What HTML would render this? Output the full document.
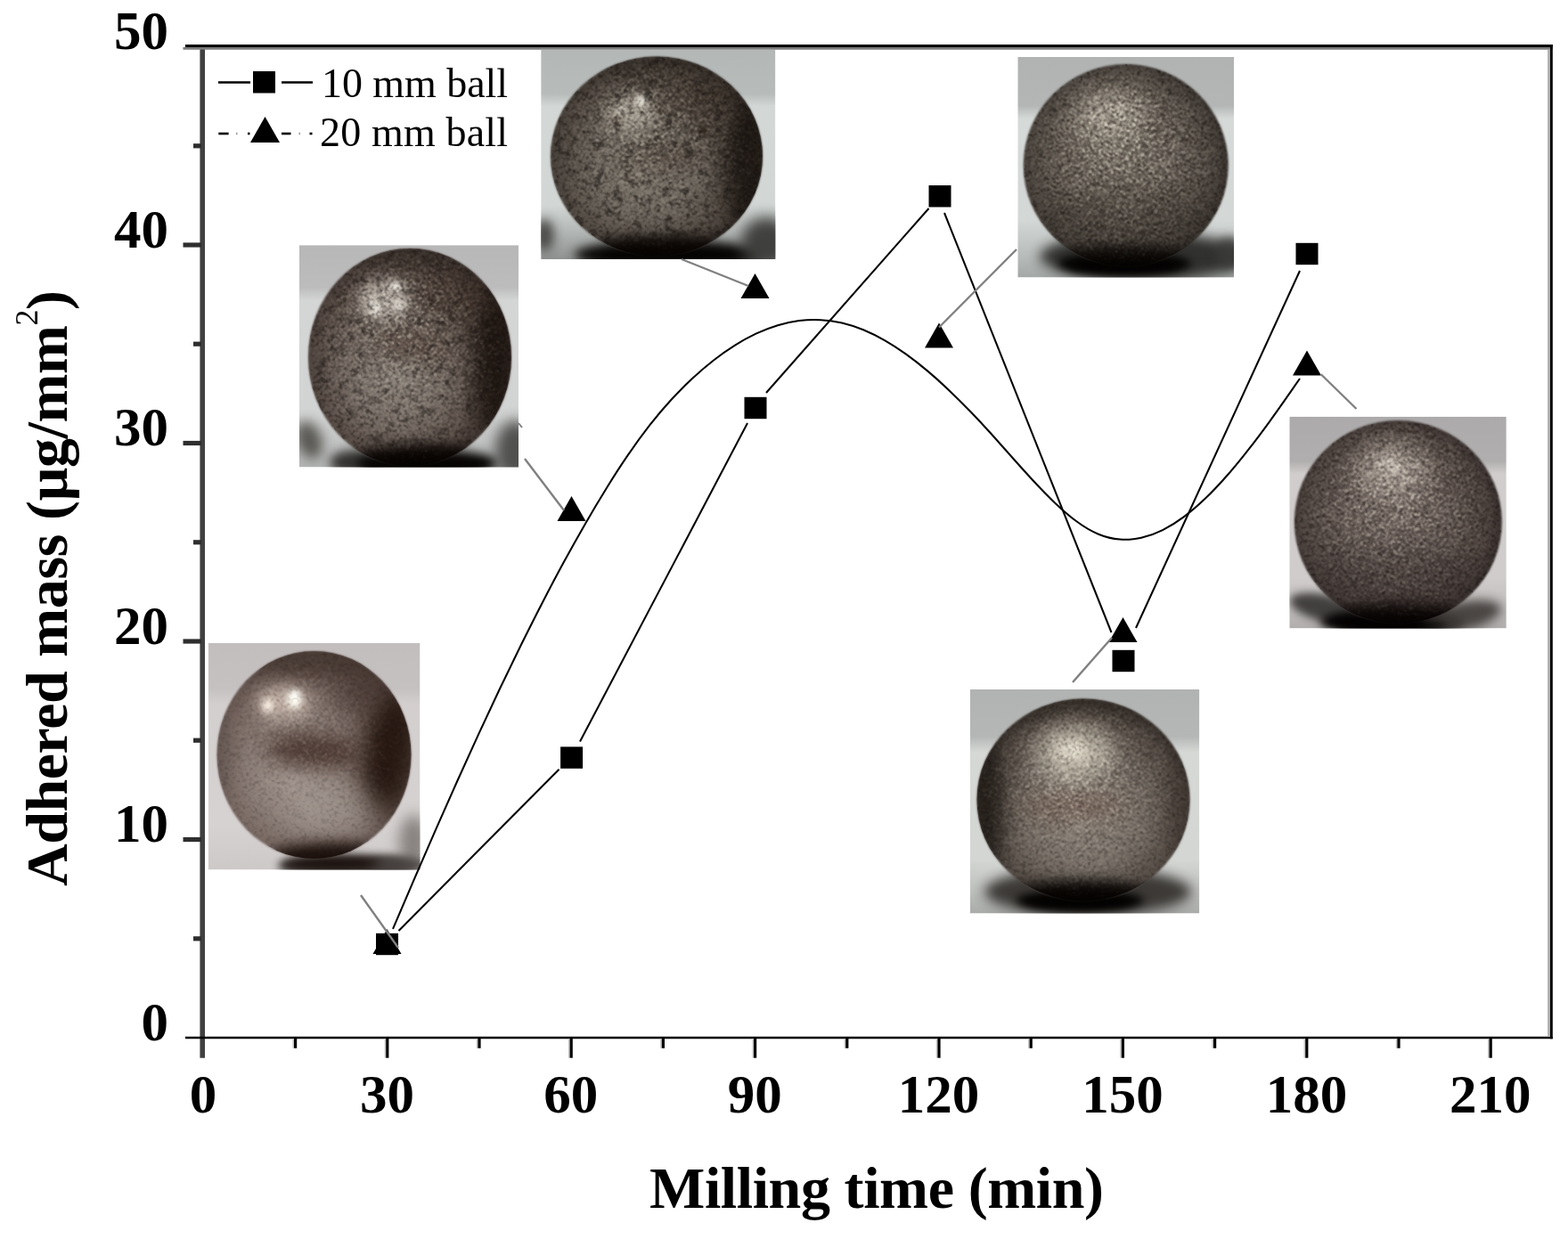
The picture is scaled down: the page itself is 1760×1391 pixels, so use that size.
<!DOCTYPE html>
<html lang="en"><head><meta charset="utf-8"><title>Adhered mass vs milling time</title>
<style>
html,body{margin:0;padding:0;background:#fff;}
svg{display:block}
text{font-family:"Liberation Serif","Times New Roman",serif;fill:#000}
.b{font-weight:bold}
</style></head><body>
<svg width="1760" height="1391" viewBox="0 0 1760 1391">
<rect width="1760" height="1391" fill="#fff"/>
<defs>
<filter id="grainD" x="-5%" y="-5%" width="110%" height="110%" color-interpolation-filters="sRGB">
<feTurbulence type="fractalNoise" baseFrequency="0.75" numOctaves="2" seed="7" result="n"/>
<feGaussianBlur in="n" stdDeviation="0.9" result="nb"/>
<feColorMatrix in="nb" type="matrix" values="0 0 0 0 0.07  0 0 0 0 0.05  0 0 0 0 0.04  -18 0 0 0 9"/>
<feComposite operator="in" in2="SourceGraphic"/>
</filter>
<filter id="grainL" x="-5%" y="-5%" width="110%" height="110%" color-interpolation-filters="sRGB">
<feTurbulence type="fractalNoise" baseFrequency="0.75" numOctaves="2" seed="7" result="n"/>
<feGaussianBlur in="n" stdDeviation="0.9" result="nb"/>
<feColorMatrix in="nb" type="matrix" values="0 0 0 0 0.97  0 0 0 0 0.95  0 0 0 0 0.88  18 0 0 0 -9"/>
<feComposite operator="in" in2="SourceGraphic"/>
</filter>
<filter id="blotch" x="-5%" y="-5%" width="110%" height="110%" color-interpolation-filters="sRGB">
<feTurbulence type="fractalNoise" baseFrequency="0.09" numOctaves="3" seed="11" result="n"/>
<feColorMatrix in="n" type="matrix" values="0 0 0 0 0.1  0 0 0 0 0.08  0 0 0 0 0.07  0 0 0 -5 2.3"/>
<feComposite operator="in" in2="SourceGraphic"/>
</filter>
<filter id="b3" x="-20%" y="-20%" width="140%" height="140%"><feGaussianBlur stdDeviation="3"/></filter>
<filter id="b6" x="-30%" y="-30%" width="160%" height="160%"><feGaussianBlur stdDeviation="6"/></filter>
<filter id="b10" x="-40%" y="-40%" width="180%" height="180%"><feGaussianBlur stdDeviation="10"/></filter>
<filter id="b1" x="-5%" y="-5%" width="110%" height="110%" color-interpolation-filters="sRGB"><feGaussianBlur stdDeviation="1.1"/></filter>
</defs>

<defs>
<filter id="bl3" x="-150%" y="-150%" width="400%" height="400%" color-interpolation-filters="sRGB"><feGaussianBlur stdDeviation="3"/></filter>
<filter id="bl4" x="-150%" y="-150%" width="400%" height="400%" color-interpolation-filters="sRGB"><feGaussianBlur stdDeviation="4"/></filter>
<filter id="bl5" x="-150%" y="-150%" width="400%" height="400%" color-interpolation-filters="sRGB"><feGaussianBlur stdDeviation="5"/></filter>
<filter id="bl6" x="-150%" y="-150%" width="400%" height="400%" color-interpolation-filters="sRGB"><feGaussianBlur stdDeviation="6"/></filter>
<filter id="bl7" x="-150%" y="-150%" width="400%" height="400%" color-interpolation-filters="sRGB"><feGaussianBlur stdDeviation="7"/></filter>
<filter id="bl8" x="-150%" y="-150%" width="400%" height="400%" color-interpolation-filters="sRGB"><feGaussianBlur stdDeviation="8"/></filter>
<filter id="bl9" x="-150%" y="-150%" width="400%" height="400%" color-interpolation-filters="sRGB"><feGaussianBlur stdDeviation="9"/></filter>
<filter id="bl10" x="-150%" y="-150%" width="400%" height="400%" color-interpolation-filters="sRGB"><feGaussianBlur stdDeviation="10"/></filter>
<filter id="bl11" x="-150%" y="-150%" width="400%" height="400%" color-interpolation-filters="sRGB"><feGaussianBlur stdDeviation="11"/></filter>
<filter id="bl12" x="-150%" y="-150%" width="400%" height="400%" color-interpolation-filters="sRGB"><feGaussianBlur stdDeviation="12"/></filter>
<filter id="bl13" x="-150%" y="-150%" width="400%" height="400%" color-interpolation-filters="sRGB"><feGaussianBlur stdDeviation="13"/></filter>
<filter id="bl14" x="-150%" y="-150%" width="400%" height="400%" color-interpolation-filters="sRGB"><feGaussianBlur stdDeviation="14"/></filter>
<filter id="bl15" x="-150%" y="-150%" width="400%" height="400%" color-interpolation-filters="sRGB"><feGaussianBlur stdDeviation="15"/></filter>
<filter id="bl16" x="-150%" y="-150%" width="400%" height="400%" color-interpolation-filters="sRGB"><feGaussianBlur stdDeviation="16"/></filter>
</defs>
<defs><clipPath id="p0c"><rect x="233.7" y="722" width="237.8" height="254.4"/></clipPath>
<clipPath id="p0e"><ellipse cx="352.5" cy="847.5" rx="109" ry="116.5"/></clipPath>
<linearGradient id="p0bg" x1="0" y1="0" x2="0" y2="1"><stop offset="0" stop-color="#c3bebe"/><stop offset="0.2" stop-color="#c5c1c1"/><stop offset="0.27" stop-color="#d3cfce"/><stop offset="0.8" stop-color="#d6d2d1"/><stop offset="1" stop-color="#cdc9c8"/></linearGradient>
<radialGradient id="p0g" cx="0.45" cy="0.55" r="0.6" fx="0.4" fy="0.62"><stop offset="0" stop-color="#a2958f"/><stop offset="0.35" stop-color="#8e807a"/><stop offset="0.7" stop-color="#75655f"/><stop offset="0.9" stop-color="#5c4c47"/><stop offset="1" stop-color="#4a3b37"/></radialGradient></defs>
<g clip-path="url(#p0c)"><rect x="233.7" y="722" width="237.8" height="254.4" fill="url(#p0bg)"/>
<ellipse cx="390" cy="972" rx="78" ry="13" fill="#2a2422" opacity="0.95" filter="url(#bl5)"/>
<ellipse cx="464" cy="945" rx="16" ry="30" fill="#7a7472" opacity="0.85" filter="url(#bl8)"/>
<ellipse cx="445" cy="971" rx="34" ry="10" fill="#4a4442" opacity="0.85" filter="url(#bl5)"/>
<g filter="url(#b1)"><ellipse cx="352.5" cy="847.5" rx="109" ry="116.5" fill="url(#p0g)"/></g>
<g clip-path="url(#p0e)">
<ellipse cx="436" cy="845" rx="30" ry="72" fill="#24160f" opacity="0.95" filter="url(#bl13)" transform="rotate(8 436 845)"/>
<ellipse cx="405" cy="775" rx="32" ry="32" fill="#43332e" opacity="0.6" filter="url(#bl14)"/>
<ellipse cx="352" cy="843" rx="55" ry="20" fill="#44302a" opacity="0.85" filter="url(#bl11)" transform="rotate(4 352 843)"/>
<ellipse cx="352" cy="742" rx="80" ry="18" fill="#43362f" opacity="0.8" filter="url(#bl10)"/>
<ellipse cx="248" cy="850" rx="10" ry="60" fill="#5a4e4a" opacity="0.5" filter="url(#bl7)"/>
<ellipse cx="375" cy="912" rx="50" ry="30" fill="#aaa19b" opacity="0.5" filter="url(#bl15)"/>
<ellipse cx="375" cy="962" rx="75" ry="16" fill="#1a0f0b" opacity="0.95" filter="url(#bl7)"/>
<ellipse cx="318" cy="789" rx="30" ry="19" fill="#dccbbf" opacity="0.7" filter="url(#bl9)"/>
<ellipse cx="330.6" cy="784.4" rx="8" ry="10.5" fill="#fffdf5" opacity="1" filter="url(#bl3)"/>
<ellipse cx="300.5" cy="792" rx="6" ry="8" fill="#fdf0e4" opacity="0.95" filter="url(#bl3)"/>
<ellipse cx="352.5" cy="847.5" rx="109" ry="116.5" fill="#000" opacity="0.16" filter="url(#grainD)"/>
<radialGradient id="p0lg" cx="0.5" cy="0.5" r="0.5" fx="0.360" fy="0.253"><stop offset="0" stop-color="#fff"/><stop offset="0.25" stop-color="#fff" stop-opacity="0.8"/><stop offset="0.6" stop-color="#fff" stop-opacity="0.4"/><stop offset="1" stop-color="#fff" stop-opacity="0.05"/></radialGradient>
<ellipse cx="352.5" cy="847.5" rx="109" ry="116.5" fill="url(#p0lg)" opacity="0.18" filter="url(#grainL)"/>
</g>
<ellipse cx="372" cy="969" rx="55" ry="6" fill="#1a100c" opacity="0.9" filter="url(#bl4)"/>
</g>
<defs><clipPath id="p1c"><rect x="336" y="275.2" width="246" height="249.3"/></clipPath>
<clipPath id="p1e"><ellipse cx="460" cy="401" rx="114" ry="122"/></clipPath>
<linearGradient id="p1bg" x1="0" y1="0" x2="0" y2="1"><stop offset="0" stop-color="#b7b7b7"/><stop offset="0.19" stop-color="#bcbcbc"/><stop offset="0.25" stop-color="#d4d6d5"/><stop offset="0.76" stop-color="#d2d4d3"/><stop offset="0.88" stop-color="#c2c4c3"/><stop offset="1" stop-color="#b4b6b5"/></linearGradient>
<radialGradient id="p1g" cx="0.46" cy="0.52" r="0.58" fx="0.42" fy="0.62"><stop offset="0" stop-color="#888078"/><stop offset="0.4" stop-color="#746a63"/><stop offset="0.75" stop-color="#544842"/><stop offset="1" stop-color="#2e2521"/></radialGradient></defs>
<g clip-path="url(#p1c)"><rect x="336" y="275.2" width="246" height="249.3" fill="url(#p1bg)"/>
<ellipse cx="347" cy="494" rx="14" ry="22" fill="#55534f" opacity="0.95" filter="url(#bl7)" transform="rotate(-20 347 494)"/>
<ellipse cx="400" cy="519" rx="30" ry="14" fill="#2e2c2a" opacity="0.95" filter="url(#bl6)"/>
<ellipse cx="480" cy="520" rx="80" ry="16" fill="#0a0807" opacity="1" filter="url(#bl6)"/>
<ellipse cx="578" cy="506" rx="22" ry="34" fill="#4a4a48" opacity="0.95" filter="url(#bl8)"/>
<g filter="url(#b1)"><ellipse cx="460" cy="401" rx="114" ry="122" fill="url(#p1g)"/></g>
<g clip-path="url(#p1e)">
<ellipse cx="554" cy="400" rx="24" ry="90" fill="#1a120e" opacity="0.9" filter="url(#bl13)"/>
<ellipse cx="512" cy="330" rx="45" ry="34" fill="#43362f" opacity="0.6" filter="url(#bl14)"/>
<ellipse cx="460" cy="286" rx="75" ry="13" fill="#3b322d" opacity="0.75" filter="url(#bl9)"/>
<ellipse cx="465" cy="388" rx="50" ry="15" fill="#4d3c34" opacity="0.6" filter="url(#bl11)" transform="rotate(8 465 388)"/>
<ellipse cx="478" cy="520" rx="88" ry="22" fill="#0a0604" opacity="1" filter="url(#bl7)"/>
<ellipse cx="352" cy="410" rx="10" ry="60" fill="#4a413c" opacity="0.5" filter="url(#bl7)"/>
<ellipse cx="431" cy="336" rx="30" ry="22" fill="#d4ccc2" opacity="0.7" filter="url(#bl9)"/>
<ellipse cx="444" cy="322" rx="7" ry="6" fill="#f2eee6" opacity="0.9" filter="url(#bl3)"/>
<ellipse cx="420" cy="345" rx="7" ry="9" fill="#f2eee6" opacity="0.85" filter="url(#bl3)"/>
<ellipse cx="448" cy="343" rx="6" ry="6" fill="#eeeae2" opacity="0.8" filter="url(#bl3)"/>
<ellipse cx="460" cy="401" rx="114" ry="122" fill="#000" opacity="0.4" filter="url(#blotch)"/>
<ellipse cx="460" cy="401" rx="114" ry="122" fill="#000" opacity="0.4" filter="url(#grainD)"/>
<radialGradient id="p1lg" cx="0.5" cy="0.5" r="0.5" fx="0.382" fy="0.242"><stop offset="0" stop-color="#fff"/><stop offset="0.25" stop-color="#fff" stop-opacity="0.8"/><stop offset="0.6" stop-color="#fff" stop-opacity="0.4"/><stop offset="1" stop-color="#fff" stop-opacity="0.05"/></radialGradient>
<ellipse cx="460" cy="401" rx="114" ry="122" fill="url(#p1lg)" opacity="0.45" filter="url(#grainL)"/>
</g>
<ellipse cx="478" cy="523" rx="70" ry="7" fill="#050302" opacity="1" filter="url(#bl4)"/>
</g>
<defs><clipPath id="p2c"><rect x="607.2" y="56" width="263.2" height="235"/></clipPath>
<clipPath id="p2e"><ellipse cx="737" cy="175.5" rx="119" ry="112"/></clipPath>
<linearGradient id="p2bg" x1="0" y1="0" x2="0" y2="1"><stop offset="0" stop-color="#b3b7b6"/><stop offset="0.21" stop-color="#b7bbba"/><stop offset="0.27" stop-color="#d3d8d6"/><stop offset="0.74" stop-color="#d2d7d5"/><stop offset="0.86" stop-color="#b5b9b7"/><stop offset="1" stop-color="#8e918f"/></linearGradient>
<radialGradient id="p2g" cx="0.46" cy="0.52" r="0.58" fx="0.42" fy="0.6"><stop offset="0" stop-color="#7c756b"/><stop offset="0.4" stop-color="#6a635b"/><stop offset="0.75" stop-color="#4e463f"/><stop offset="1" stop-color="#29231f"/></radialGradient></defs>
<g clip-path="url(#p2c)"><rect x="607.2" y="56" width="263.2" height="235" fill="url(#p2bg)"/>
<ellipse cx="611" cy="264" rx="11" ry="18" fill="#474745" opacity="0.95" filter="url(#bl6)"/>
<ellipse cx="750" cy="286" rx="105" ry="17" fill="#0a0806" opacity="1" filter="url(#bl6)"/>
<ellipse cx="860" cy="272" rx="28" ry="28" fill="#3a3a38" opacity="0.95" filter="url(#bl8)"/>
<g filter="url(#b1)"><ellipse cx="737" cy="175.5" rx="119" ry="112" fill="url(#p2g)"/></g>
<g clip-path="url(#p2e)">
<ellipse cx="838" cy="180" rx="24" ry="80" fill="#1c1612" opacity="0.9" filter="url(#bl13)"/>
<ellipse cx="790" cy="112" rx="45" ry="30" fill="#40362e" opacity="0.55" filter="url(#bl14)"/>
<ellipse cx="737" cy="68" rx="85" ry="12" fill="#39322c" opacity="0.75" filter="url(#bl9)"/>
<ellipse cx="750" cy="177" rx="50" ry="14" fill="#4a3e36" opacity="0.5" filter="url(#bl11)"/>
<ellipse cx="745" cy="285" rx="92" ry="21" fill="#0a0604" opacity="1" filter="url(#bl7)"/>
<ellipse cx="626" cy="180" rx="9" ry="55" fill="#453e39" opacity="0.5" filter="url(#bl7)"/>
<ellipse cx="708" cy="127" rx="30" ry="21" fill="#c4bdb0" opacity="0.6" filter="url(#bl9)"/>
<ellipse cx="719.3" cy="113.6" rx="5" ry="6" fill="#fbf9f0" opacity="0.95" filter="url(#bl3)"/>
<ellipse cx="697" cy="124" rx="6" ry="4" fill="#e8e3d6" opacity="0.8" filter="url(#bl3)"/>
<ellipse cx="693" cy="135" rx="5" ry="5" fill="#3a2e24" opacity="0.7" filter="url(#bl3)"/>
<ellipse cx="740" cy="123" rx="5" ry="6" fill="#3a2e24" opacity="0.6" filter="url(#bl3)"/>
<ellipse cx="790" cy="146" rx="6" ry="7" fill="#33291f" opacity="0.7" filter="url(#bl3)"/>
<ellipse cx="737" cy="175.5" rx="119" ry="112" fill="#000" opacity="0.45" filter="url(#blotch)"/>
<ellipse cx="737" cy="175.5" rx="119" ry="112" fill="#000" opacity="0.42" filter="url(#grainD)"/>
<radialGradient id="p2lg" cx="0.5" cy="0.5" r="0.5" fx="0.395" fy="0.261"><stop offset="0" stop-color="#fff"/><stop offset="0.25" stop-color="#fff" stop-opacity="0.8"/><stop offset="0.6" stop-color="#fff" stop-opacity="0.4"/><stop offset="1" stop-color="#fff" stop-opacity="0.05"/></radialGradient>
<ellipse cx="737" cy="175.5" rx="119" ry="112" fill="url(#p2lg)" opacity="0.38" filter="url(#grainL)"/>
</g>
<ellipse cx="748" cy="289" rx="75" ry="7" fill="#050302" opacity="1" filter="url(#bl4)"/>
</g>
<defs><clipPath id="p3c"><rect x="1142.3" y="64" width="242.7" height="247.5"/></clipPath>
<clipPath id="p3e"><ellipse cx="1263.7" cy="185.5" rx="115" ry="113.5"/></clipPath>
<linearGradient id="p3bg" x1="0" y1="0" x2="0" y2="1"><stop offset="0" stop-color="#b0b3b2"/><stop offset="0.22" stop-color="#b3b6b5"/><stop offset="0.28" stop-color="#d5d9d7"/><stop offset="0.74" stop-color="#d3d7d5"/><stop offset="0.9" stop-color="#b8bcba"/><stop offset="1" stop-color="#a3a7a5"/></linearGradient>
<radialGradient id="p3g" cx="0.48" cy="0.5" r="0.57" fx="0.45" fy="0.42"><stop offset="0" stop-color="#7d766c"/><stop offset="0.45" stop-color="#686058"/><stop offset="0.8" stop-color="#4c453f"/><stop offset="1" stop-color="#26211d"/></radialGradient></defs>
<g clip-path="url(#p3c)"><rect x="1142.3" y="64" width="242.7" height="247.5" fill="url(#p3bg)"/>
<ellipse cx="1283" cy="288" rx="116" ry="27" fill="#2a2a28" opacity="0.95" filter="url(#bl7)"/>
<ellipse cx="1262" cy="296" rx="75" ry="13" fill="#050403" opacity="1" filter="url(#bl5)"/>
<ellipse cx="1380" cy="284" rx="16" ry="18" fill="#3a3a38" opacity="0.85" filter="url(#bl6)"/>
<g filter="url(#b1)"><ellipse cx="1263.7" cy="185.5" rx="115" ry="113.5" fill="url(#p3g)"/></g>
<g clip-path="url(#p3e)">
<ellipse cx="1264" cy="296" rx="90" ry="21" fill="#080604" opacity="1" filter="url(#bl7)"/>
<ellipse cx="1264" cy="250" rx="100" ry="40" fill="#2a2520" opacity="0.3" filter="url(#bl16)"/>
<ellipse cx="1247" cy="129" rx="40" ry="30" fill="#bdb6a8" opacity="0.55" filter="url(#bl14)"/>
<ellipse cx="1263.7" cy="185.5" rx="115" ry="113.5" fill="#000" opacity="0.1" filter="url(#blotch)"/>
<ellipse cx="1263.7" cy="185.5" rx="115" ry="113.5" fill="#000" opacity="0.42" filter="url(#grainD)"/>
<radialGradient id="p3lg" cx="0.5" cy="0.5" r="0.5" fx="0.427" fy="0.256"><stop offset="0" stop-color="#fff"/><stop offset="0.25" stop-color="#fff" stop-opacity="0.8"/><stop offset="0.6" stop-color="#fff" stop-opacity="0.4"/><stop offset="1" stop-color="#fff" stop-opacity="0.05"/></radialGradient>
<ellipse cx="1263.7" cy="185.5" rx="115" ry="113.5" fill="url(#p3lg)" opacity="0.6" filter="url(#grainL)"/>
</g>
<ellipse cx="1262" cy="299" rx="62" ry="6" fill="#030201" opacity="1" filter="url(#bl4)"/>
</g>
<defs><clipPath id="p4c"><rect x="1088.7" y="774" width="257.6" height="251.5"/></clipPath>
<clipPath id="p4e"><ellipse cx="1216" cy="898" rx="119.5" ry="113.5"/></clipPath>
<linearGradient id="p4bg" x1="0" y1="0" x2="0" y2="1"><stop offset="0" stop-color="#b1b3b2"/><stop offset="0.21" stop-color="#b5b7b6"/><stop offset="0.28" stop-color="#d6d8d6"/><stop offset="0.76" stop-color="#d4d6d4"/><stop offset="0.9" stop-color="#bec0be"/><stop offset="1" stop-color="#a9aba9"/></linearGradient>
<radialGradient id="p4g" cx="0.5" cy="0.54" r="0.57" fx="0.5" fy="0.6"><stop offset="0" stop-color="#8a8279"/><stop offset="0.45" stop-color="#756d65"/><stop offset="0.8" stop-color="#534a44"/><stop offset="1" stop-color="#28221e"/></radialGradient></defs>
<g clip-path="url(#p4c)"><rect x="1088.7" y="774" width="257.6" height="251.5" fill="url(#p4bg)"/>
<ellipse cx="1221" cy="1001" rx="116" ry="27" fill="#35322f" opacity="0.95" filter="url(#bl7)"/>
<ellipse cx="1212" cy="1011" rx="72" ry="12" fill="#050403" opacity="1" filter="url(#bl5)"/>
<g filter="url(#b1)"><ellipse cx="1216" cy="898" rx="119.5" ry="113.5" fill="url(#p4g)"/></g>
<g clip-path="url(#p4e)">
<ellipse cx="1108" cy="905" rx="18" ry="75" fill="#1c1713" opacity="0.85" filter="url(#bl11)"/>
<ellipse cx="1326" cy="900" rx="14" ry="70" fill="#3a312b" opacity="0.6" filter="url(#bl10)"/>
<ellipse cx="1216" cy="790" rx="90" ry="13" fill="#38312b" opacity="0.75" filter="url(#bl10)"/>
<ellipse cx="1205" cy="905" rx="60" ry="13" fill="#6e5248" opacity="0.55" filter="url(#bl12)"/>
<ellipse cx="1214" cy="1009" rx="92" ry="21" fill="#080604" opacity="1" filter="url(#bl7)"/>
<ellipse cx="1206" cy="845" rx="44" ry="31" fill="#d8d1c0" opacity="0.7" filter="url(#bl13)"/>
<ellipse cx="1204" cy="842" rx="16" ry="10" fill="#f6f1e2" opacity="0.7" filter="url(#bl6)"/>
<ellipse cx="1216" cy="898" rx="119.5" ry="113.5" fill="#000" opacity="0.28" filter="url(#grainD)"/>
<radialGradient id="p4lg" cx="0.5" cy="0.5" r="0.5" fx="0.458" fy="0.267"><stop offset="0" stop-color="#fff"/><stop offset="0.25" stop-color="#fff" stop-opacity="0.8"/><stop offset="0.6" stop-color="#fff" stop-opacity="0.4"/><stop offset="1" stop-color="#fff" stop-opacity="0.05"/></radialGradient>
<ellipse cx="1216" cy="898" rx="119.5" ry="113.5" fill="url(#p4lg)" opacity="0.45" filter="url(#grainL)"/>
</g>
<ellipse cx="1212" cy="1013" rx="60" ry="6" fill="#030201" opacity="1" filter="url(#bl4)"/>
</g>
<defs><clipPath id="p5c"><rect x="1447.3" y="467.7" width="243.5" height="237.7"/></clipPath>
<clipPath id="p5e"><ellipse cx="1569.3" cy="586" rx="116.5" ry="114"/></clipPath>
<linearGradient id="p5bg" x1="0" y1="0" x2="0" y2="1"><stop offset="0" stop-color="#acaaaa"/><stop offset="0.21" stop-color="#b0aeae"/><stop offset="0.27" stop-color="#d0cdcc"/><stop offset="0.76" stop-color="#cfcccb"/><stop offset="0.9" stop-color="#c0bdbc"/><stop offset="1" stop-color="#b0adac"/></linearGradient>
<radialGradient id="p5g" cx="0.48" cy="0.5" r="0.57" fx="0.47" fy="0.44"><stop offset="0" stop-color="#7a6f69"/><stop offset="0.45" stop-color="#655a55"/><stop offset="0.8" stop-color="#4a403c"/><stop offset="1" stop-color="#262020"/></radialGradient></defs>
<g clip-path="url(#p5c)"><rect x="1447.3" y="467.7" width="243.5" height="237.7" fill="url(#p5bg)"/>
<ellipse cx="1487" cy="683" rx="40" ry="15" fill="#383634" opacity="0.92" filter="url(#bl5)" transform="rotate(14 1487 683)"/>
<ellipse cx="1562" cy="698" rx="80" ry="15" fill="#050303" opacity="1" filter="url(#bl5)"/>
<ellipse cx="1640" cy="692" rx="46" ry="16" fill="#403c3a" opacity="0.92" filter="url(#bl6)" transform="rotate(-12 1640 692)"/>
<g filter="url(#b1)"><ellipse cx="1569.3" cy="586" rx="116.5" ry="114" fill="url(#p5g)"/></g>
<g clip-path="url(#p5e)">
<ellipse cx="1566" cy="698" rx="90" ry="21" fill="#080404" opacity="1" filter="url(#bl7)"/>
<ellipse cx="1569" cy="650" rx="100" ry="40" fill="#2a2222" opacity="0.3" filter="url(#bl16)"/>
<ellipse cx="1562" cy="527" rx="40" ry="30" fill="#c2b8ae" opacity="0.6" filter="url(#bl13)"/>
<ellipse cx="1560" cy="522" rx="12" ry="8" fill="#efe8de" opacity="0.5" filter="url(#bl5)"/>
<ellipse cx="1569.3" cy="586" rx="116.5" ry="114" fill="#000" opacity="0.08" filter="url(#blotch)"/>
<ellipse cx="1569.3" cy="586" rx="116.5" ry="114" fill="#000" opacity="0.4" filter="url(#grainD)"/>
<radialGradient id="p5lg" cx="0.5" cy="0.5" r="0.5" fx="0.469" fy="0.241"><stop offset="0" stop-color="#fff"/><stop offset="0.25" stop-color="#fff" stop-opacity="0.8"/><stop offset="0.6" stop-color="#fff" stop-opacity="0.4"/><stop offset="1" stop-color="#fff" stop-opacity="0.05"/></radialGradient>
<ellipse cx="1569.3" cy="586" rx="116.5" ry="114" fill="url(#p5lg)" opacity="0.55" filter="url(#grainL)"/>
</g>
<ellipse cx="1562" cy="702" rx="62" ry="6" fill="#030201" opacity="1" filter="url(#bl4)"/>
</g>
<g stroke="#000" stroke-width="2.05" fill="none" stroke-linecap="butt">
<line x1="447.5" y1="1045" x2="627.5" y2="863.7"/>
<line x1="651" y1="832.5" x2="839" y2="475"/>
<line x1="860" y1="441" x2="1042.5" y2="234"/>
<line x1="1060" y1="239" x2="1247.5" y2="710"/>
<line x1="1275" y1="705" x2="1459" y2="304"/>
<path d="M441.0,1042.9 C449.0,1024.1 457.0,1005.4 465.0,986.9 C473.0,968.3 481.0,949.9 489.0,931.6 C497.0,913.4 505.0,895.3 513.0,877.5 C521.0,859.6 529.0,842.0 537.0,824.6 C545.0,807.3 553.0,790.1 561.0,773.3 C569.0,756.5 577.0,740.0 585.0,723.8 C593.0,707.6 601.0,691.7 609.0,676.2 C617.0,660.7 625.0,645.5 633.0,630.8 C641.0,616.1 649.0,601.8 657.0,587.9 C665.0,574.0 673.0,560.6 681.0,547.7 C689.0,534.8 697.0,522.4 705.0,510.7 C713.0,499.0 721.0,488.0 729.0,477.7 C737.0,467.5 745.0,458.0 753.0,449.3 C761.0,440.6 769.0,432.5 777.0,425.1 C785.0,417.6 793.0,410.7 801.0,404.5 C809.0,398.2 817.0,392.6 825.0,387.6 C833.0,382.5 841.0,378.2 849.0,374.4 C857.0,370.7 865.0,367.6 873.0,365.2 C881.0,362.9 889.0,361.1 897.0,360.1 C905.0,359.1 913.0,358.8 921.0,359.2 C929.0,359.5 937.0,360.7 945.0,362.5 C953.0,364.4 961.0,367.0 969.0,370.2 C977.0,373.5 985.0,377.5 993.0,382.1 C1001.0,386.7 1009.0,391.9 1017.0,397.6 C1025.0,403.3 1033.0,409.6 1041.0,416.4 C1049.0,423.1 1057.0,430.3 1065.0,437.9 C1073.0,445.5 1081.0,453.5 1089.0,461.8 C1097.0,470.1 1105.0,478.7 1113.0,487.5 C1121.0,496.4 1129.0,505.5 1137.0,514.5 C1145.0,523.5 1153.0,532.4 1161.0,541.0 C1169.0,549.6 1177.0,557.8 1185.0,565.4 C1193.0,573.0 1201.0,579.9 1209.0,585.8 C1217.0,591.7 1225.0,596.5 1233.0,599.7 C1241.0,603.0 1249.0,604.9 1257.0,605.6 C1265.0,606.2 1273.0,605.6 1281.0,603.8 C1289.0,602.0 1297.0,599.1 1305.0,595.1 C1313.0,591.1 1321.0,586.1 1329.0,580.1 C1337.0,574.2 1345.0,567.3 1353.0,559.6 C1361.0,551.9 1369.0,543.4 1377.0,534.3 C1385.0,525.2 1393.0,515.4 1401.0,505.2 C1409.0,495.0 1417.0,484.3 1425.0,473.3 C1433.0,462.3 1441.0,450.9 1449.0,439.4 C1452.3,434.6 1455.7,429.8 1459.0,425.0"/>
</g>
<g fill="#000">
<rect x="422.0" y="1047.8" width="25" height="24.4"/>
<rect x="629.1" y="838.4" width="25" height="24.4"/>
<rect x="835.5" y="445.8" width="25" height="24.4"/>
<rect x="1042.5" y="208.1" width="25" height="24.4"/>
<rect x="1248.5" y="729.8" width="25" height="24.4"/>
<rect x="1454.5" y="272.8" width="25" height="24.4"/>
<polygon points="434.5,1043.0 450.5,1071.0 418.5,1071.0"/>
<polygon points="641.5,557.0 657.5,585.0 625.5,585.0"/>
<polygon points="847.5,307.0 863.5,335.0 831.5,335.0"/>
<polygon points="1054.0,362.5 1070.0,390.5 1038.0,390.5"/>
<polygon points="1260.5,693.0 1276.5,721.0 1244.5,721.0"/>
<polygon points="1467.0,393.5 1483.0,421.5 1451.0,421.5"/>
</g>
<g stroke="#808080" stroke-width="2.4" fill="none" stroke-linecap="butt">
<line x1="405" y1="1005" x2="447" y2="1064"/>
<line x1="589" y1="515" x2="633" y2="573"/>
<line x1="765" y1="291" x2="840" y2="321"/>
<line x1="1141" y1="280" x2="1054" y2="367.5"/>
<line x1="1204" y1="766" x2="1248" y2="716"/>
<line x1="1482.5" y1="420" x2="1522.5" y2="459"/>
<line x1="582" y1="475" x2="586" y2="480" stroke-width="2"/>
</g>
<g stroke="#000" fill="none">
<line x1="227.2" y1="50" x2="227.2" y2="1187.7" stroke-width="5.6" stroke="#404040"/>
<line x1="205.5" y1="54.4" x2="1742.8" y2="54.4" stroke-width="2.9" stroke="#7a7a7a"/>
<line x1="208" y1="51.5" x2="1742.8" y2="51.5" stroke-width="3"/>
<line x1="208" y1="1165" x2="1742.8" y2="1165" stroke-width="2.6"/>
<line x1="1738.6" y1="56" x2="1738.6" y2="1163.7" stroke-width="2.8" stroke="#ababab"/>
<line x1="1741.4" y1="50" x2="1741.4" y2="1166.3" stroke-width="2.8"/>
<line x1="217" y1="1053.8" x2="226" y2="1053.8" stroke-width="5.2" stroke="#2e2e2e"/>
<line x1="205.5" y1="942.5" x2="226" y2="942.5" stroke-width="5.2" stroke="#2e2e2e"/>
<line x1="217" y1="831.2" x2="226" y2="831.2" stroke-width="5.2" stroke="#2e2e2e"/>
<line x1="205.5" y1="720.0" x2="226" y2="720.0" stroke-width="5.2" stroke="#2e2e2e"/>
<line x1="217" y1="608.8" x2="226" y2="608.8" stroke-width="5.2" stroke="#2e2e2e"/>
<line x1="205.5" y1="497.5" x2="226" y2="497.5" stroke-width="5.2" stroke="#2e2e2e"/>
<line x1="217" y1="386.2" x2="226" y2="386.2" stroke-width="5.2" stroke="#2e2e2e"/>
<line x1="205.5" y1="275.0" x2="226" y2="275.0" stroke-width="5.2" stroke="#2e2e2e"/>
<line x1="217" y1="163.8" x2="226" y2="163.8" stroke-width="5.2" stroke="#2e2e2e"/>
<line x1="329.2" y1="1166" x2="329.2" y2="1176.8" stroke-width="1.6" stroke="#c4c4c4"/>
<line x1="331.6" y1="1165" x2="331.6" y2="1176.8" stroke-width="3.2"/>
<line x1="432.4" y1="1166" x2="432.4" y2="1187.7" stroke-width="1.6" stroke="#c4c4c4"/>
<line x1="434.8" y1="1165" x2="434.8" y2="1187.7" stroke-width="3.2"/>
<line x1="535.6" y1="1166" x2="535.6" y2="1176.8" stroke-width="1.6" stroke="#c4c4c4"/>
<line x1="538.0" y1="1165" x2="538.0" y2="1176.8" stroke-width="3.2"/>
<line x1="638.8" y1="1166" x2="638.8" y2="1187.7" stroke-width="1.6" stroke="#c4c4c4"/>
<line x1="641.2" y1="1165" x2="641.2" y2="1187.7" stroke-width="3.2"/>
<line x1="742.0" y1="1166" x2="742.0" y2="1176.8" stroke-width="1.6" stroke="#c4c4c4"/>
<line x1="744.4" y1="1165" x2="744.4" y2="1176.8" stroke-width="3.2"/>
<line x1="845.2" y1="1166" x2="845.2" y2="1187.7" stroke-width="1.6" stroke="#c4c4c4"/>
<line x1="847.6" y1="1165" x2="847.6" y2="1187.7" stroke-width="3.2"/>
<line x1="948.4" y1="1166" x2="948.4" y2="1176.8" stroke-width="1.6" stroke="#c4c4c4"/>
<line x1="950.8" y1="1165" x2="950.8" y2="1176.8" stroke-width="3.2"/>
<line x1="1051.6" y1="1166" x2="1051.6" y2="1187.7" stroke-width="1.6" stroke="#c4c4c4"/>
<line x1="1054.0" y1="1165" x2="1054.0" y2="1187.7" stroke-width="3.2"/>
<line x1="1154.8" y1="1166" x2="1154.8" y2="1176.8" stroke-width="1.6" stroke="#c4c4c4"/>
<line x1="1157.2" y1="1165" x2="1157.2" y2="1176.8" stroke-width="3.2"/>
<line x1="1258.0" y1="1166" x2="1258.0" y2="1187.7" stroke-width="1.6" stroke="#c4c4c4"/>
<line x1="1260.4" y1="1165" x2="1260.4" y2="1187.7" stroke-width="3.2"/>
<line x1="1361.2" y1="1166" x2="1361.2" y2="1176.8" stroke-width="1.6" stroke="#c4c4c4"/>
<line x1="1363.6" y1="1165" x2="1363.6" y2="1176.8" stroke-width="3.2"/>
<line x1="1464.4" y1="1166" x2="1464.4" y2="1187.7" stroke-width="1.6" stroke="#c4c4c4"/>
<line x1="1466.8" y1="1165" x2="1466.8" y2="1187.7" stroke-width="3.2"/>
<line x1="1567.6" y1="1166" x2="1567.6" y2="1176.8" stroke-width="1.6" stroke="#c4c4c4"/>
<line x1="1570.0" y1="1165" x2="1570.0" y2="1176.8" stroke-width="3.2"/>
<line x1="1670.8" y1="1166" x2="1670.8" y2="1187.7" stroke-width="1.6" stroke="#c4c4c4"/>
<line x1="1673.2" y1="1165" x2="1673.2" y2="1187.7" stroke-width="3.2"/>
</g>
<g class="b" font-size="61">
<text x="189" y="1167.5" text-anchor="end">0</text>
<text x="189" y="945.0" text-anchor="end">10</text>
<text x="189" y="722.5" text-anchor="end">20</text>
<text x="189" y="500.0" text-anchor="end">30</text>
<text x="189" y="277.5" text-anchor="end">40</text>
<text x="189" y="55.0" text-anchor="end">50</text>
<text x="228.0" y="1249" text-anchor="middle">0</text>
<text x="434.4" y="1249" text-anchor="middle">30</text>
<text x="640.8" y="1249" text-anchor="middle">60</text>
<text x="847.2" y="1249" text-anchor="middle">90</text>
<text x="1053.6" y="1249" text-anchor="middle">120</text>
<text x="1260.0" y="1249" text-anchor="middle">150</text>
<text x="1466.4" y="1249" text-anchor="middle">180</text>
<text x="1672.8" y="1249" text-anchor="middle">210</text>
</g>
<text class="b" font-size="66" x="729" y="1356" textLength="510" lengthAdjust="spacing">Milling time (min)</text>
<text class="b" font-size="66" transform="translate(75,995) rotate(-90)" x="0" y="0" textLength="669" lengthAdjust="spacing">Adhered mass (µg/mm<tspan font-size="36" font-weight="normal" dy="-33">2</tspan><tspan dy="33">)</tspan></text>
<g stroke="#000" stroke-width="2.6"><line x1="245" y1="92.5" x2="281" y2="92.5"/><line x1="316" y1="92.5" x2="351" y2="92.5"/>
<line x1="245.3" y1="150" x2="256.6" y2="150"/><line x1="265" y1="150" x2="266.5" y2="150" stroke="#999"/><line x1="278" y1="150" x2="280.5" y2="150"/><line x1="316" y1="150" x2="326.5" y2="150"/><line x1="335.5" y1="150" x2="337" y2="150" stroke="#999"/><line x1="347.5" y1="150" x2="350.5" y2="150"/></g>
<rect x="284" y="80" width="25" height="24.5" fill="#000"/>
<polygon points="297.5,131 314,160 281,160" fill="#000"/>
<g font-size="46"><text x="361" y="109" textLength="209" lengthAdjust="spacing">10 mm ball</text><text x="359" y="164" textLength="211" lengthAdjust="spacing">20 mm ball</text></g>
</svg></body></html>
